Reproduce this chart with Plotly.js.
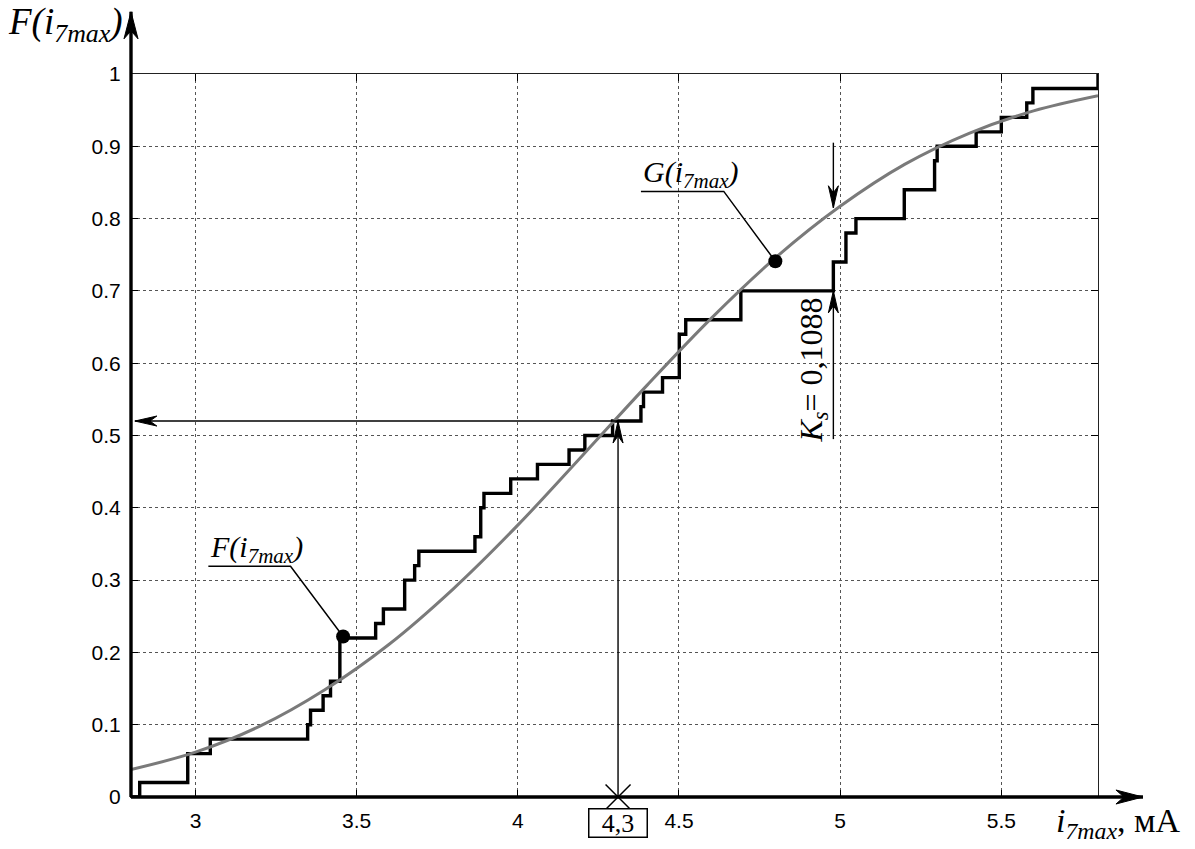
<!DOCTYPE html>
<html>
<head>
<meta charset="utf-8">
<script src="https://cdn.plot.ly/plotly-3.0.1.min.js"></script>
<style>html,body{margin:0;padding:0;background:#fff;}#chart{width:1195px;height:849px;}</style>
</head>
<body>
<div id="chart"></div>
<script>
// Empirical distribution F(i7max): jump positions and values after each jump
const xJump = [2.8, 2.827, 2.976, 3.046, 3.348, 3.357, 3.396, 3.419, 3.448, 3.559, 3.583, 3.649, 3.680, 3.693, 3.867, 3.885, 3.895, 3.978, 4.061, 4.159, 4.208, 4.294, 4.382, 4.390, 4.449, 4.501, 4.521, 4.692, 4.979, 5.018, 5.049, 5.199, 5.293, 5.301, 5.422, 5.500, 5.579, 5.598, 5.800];
const fStep = [0, 0.02, 0.06, 0.08, 0.10, 0.12, 0.14, 0.16, 0.22, 0.24, 0.26, 0.30, 0.32, 0.34, 0.36, 0.40, 0.42, 0.44, 0.46, 0.48, 0.50, 0.52, 0.54, 0.56, 0.58, 0.64, 0.66, 0.70, 0.74, 0.78, 0.80, 0.84, 0.88, 0.90, 0.92, 0.94, 0.96, 0.98, 1.00];
// Theoretical distribution G(i7max)
const gX = [2.8, 3.0, 3.2, 3.4, 3.6, 3.8, 4.0, 4.2, 4.4, 4.6, 4.8, 5.0, 5.2, 5.4, 5.6, 5.8];
const gY = [0.038, 0.062, 0.098, 0.148, 0.211, 0.288, 0.376, 0.472, 0.569, 0.662, 0.746, 0.817, 0.875, 0.918, 0.949, 0.970];
// tick labels
const xTicks = [3, 3.5, 4, 4.5, 5, 5.5];
const xTickText = ['3', '3.5', '4', '4.5', '5', '5.5'];
const yTicks = [0, 0.1, 0.2, 0.3, 0.4, 0.5, 0.6, 0.7, 0.8, 0.9, 1];
const yTickText = ['0', '0.1', '0.2', '0.3', '0.4', '0.5', '0.6', '0.7', '0.8', '0.9', '1'];
// annotated points
const crossX = 4.311, crossY = 0.52, crossLabel = '4,3';
const ksX = 4.979, ksF = 0.70, ksG = 0.815, ksLabel = '<i>K<sub>s</sub></i>= 0,1088';
const fDot = [3.458, 0.222];
const gDot = [4.799, 0.741];
const xMin = 2.8, xMax = 5.8, yMin = 0, yMax = 1;

const serif = 'Liberation Serif, Times New Roman, serif';
const sans = 'Liberation Sans, Arial, sans-serif';

function xp(x) { return (x - xMin) / (xMax - xMin); }
function yp(y) { return (y - yMin) / (yMax - yMin); }

const traces = [
  {x: xJump, y: fStep, type: 'scatter', mode: 'lines', line: {shape: 'hv', color: '#000', width: 3.4}, cliponaxis: false, hoverinfo: 'skip'},
  {x: gX, y: gY, type: 'scatter', mode: 'lines', line: {shape: 'spline', color: '#7a7a7a', width: 3}, cliponaxis: false, hoverinfo: 'skip'},
  {x: [fDot[0], gDot[0]], y: [fDot[1], gDot[1]], type: 'scatter', mode: 'markers', marker: {color: '#000', size: 14}, cliponaxis: false},
  {x: [crossX], y: [0], type: 'scatter', mode: 'markers', marker: {symbol: 'x-thin-open', size: 25, color: '#000', line: {color: '#000', width: 1.5}}, cliponaxis: false}
];

const shapes = [];
// arrow: line from tail to tip in paper coords, head drawn in pixels at the tip
function arrow(tx, ty, hx, hy, dir, w, L, W, N) {
  shapes.push({type: 'line', xref: 'paper', yref: 'paper', x0: tx, y0: ty, x1: hx, y1: hy, line: {color: '#000', width: w}});
  const d = {right: [1, 0], left: [-1, 0], up: [0, 1], down: [0, -1]}[dir];
  const n = [-d[1], d[0]];
  const p = [
    [0, 0],
    [-L * d[0] + W * n[0], -L * d[1] + W * n[1]],
    [-N * d[0], -N * d[1]],
    [-L * d[0] - W * n[0], -L * d[1] - W * n[1]]
  ];
  const path = 'M' + p.map(q => q[0].toFixed(1) + ',' + q[1].toFixed(1)).join(' L') + ' Z';
  shapes.push({type: 'path', xref: 'paper', yref: 'paper', xsizemode: 'pixel', ysizemode: 'pixel',
               xanchor: hx, yanchor: hy, path: path, fillcolor: '#000', line: {color: '#000', width: 1}});
}
// axes with arrows
arrow(0, 0, 1.0465, 0, 'right', 3.4, 27, 7, 19);
arrow(0, 0, 0, 1.086, 'up', 3.4, 27, 7, 19);
// reading arrows at 4,3 / 0.52
arrow(xp(crossX), yp(crossY), xp(xMin) + 0.004, yp(crossY), 'left', 1.4, 22, 5, 15);
arrow(xp(crossX), 0, xp(crossX), yp(crossY), 'up', 1.4, 22, 5, 15);
// Ks arrows
arrow(xp(ksX), yp(0.495), xp(ksX), yp(ksF), 'up', 1.4, 22, 5, 15);
arrow(xp(ksX), yp(0.905), xp(ksX), yp(ksG), 'down', 1.4, 22, 5, 15);
// leaders with underline
shapes.push({type: 'path', xref: 'x', yref: 'y', path: 'M3.040,0.319 L3.295,0.319 L' + fDot[0] + ',' + fDot[1], line: {color: '#000', width: 1.5}});
shapes.push({type: 'path', xref: 'x', yref: 'y', path: 'M4.382,0.8376 L4.639,0.8376 L' + gDot[0] + ',' + gDot[1], line: {color: '#000', width: 1.5}});

const annotations = [
  {x: -0.006, y: 1.068, xref: 'paper', yref: 'paper', xanchor: 'right', yanchor: 'middle', showarrow: false,
   text: '<i>F(i<sub>7max</sub>)</i>', font: {family: serif, size: 37, color: '#000'}},
  {x: 0.954, y: -0.036, xref: 'paper', yref: 'paper', xanchor: 'left', yanchor: 'middle', showarrow: false,
   text: '<i>i<sub>7max</sub></i>, мА', font: {family: serif, size: 34, color: '#000'}},
  {x: crossX, y: -0.036, xref: 'x', yref: 'paper', xanchor: 'center', yanchor: 'middle', showarrow: false,
   text: crossLabel, width: 57, height: 27, font: {family: serif, size: 26, color: '#000'},
   bordercolor: '#000', borderwidth: 1.5, borderpad: 0, bgcolor: '#fff'},
  {x: 4.916, y: 0.59, xref: 'x', yref: 'y', xanchor: 'center', yanchor: 'middle', showarrow: false, textangle: -90,
   text: ksLabel, font: {family: serif, size: 32, color: '#000'}},
  {x: 3.040, y: 0.319, xref: 'x', yref: 'y', xanchor: 'left', yanchor: 'bottom', showarrow: false, yshift: -4,
   text: '<i>F(i<sub>7max</sub>)</i>', font: {family: serif, size: 30, color: '#000'}},
  {x: 4.382, y: 0.8376, xref: 'x', yref: 'y', xanchor: 'left', yanchor: 'bottom', showarrow: false, yshift: -4,
   text: '<i>G(i<sub>7max</sub>)</i>', font: {family: serif, size: 30, color: '#000'}}
];

const axisCommon = {
  showline: true, linecolor: '#222', linewidth: 1, mirror: 'ticks',
  ticks: 'inside', ticklen: 7, tickwidth: 1, tickcolor: '#000',
  showgrid: true, gridcolor: '#555', gridwidth: 1, griddash: 'dot',
  zeroline: false, tickfont: {family: sans, size: 21, color: '#000'}, ticklabelstandoff: 5,
  fixedrange: true
};

const layout = {
  width: 1195, height: 849,
  margin: {l: 131, r: 97, t: 74, b: 52},
  paper_bgcolor: '#fff', plot_bgcolor: '#fff',
  showlegend: false,
  xaxis: Object.assign({}, axisCommon, {range: [xMin, xMax], tickmode: 'array', tickvals: xTicks, ticktext: xTickText}),
  yaxis: Object.assign({}, axisCommon, {range: [yMin, yMax], tickmode: 'array', tickvals: yTicks, ticktext: yTickText}),
  annotations: annotations,
  shapes: shapes
};

Plotly.newPlot('chart', traces, layout, {staticPlot: true, displayModeBar: false});
</script>
</body>
</html>
